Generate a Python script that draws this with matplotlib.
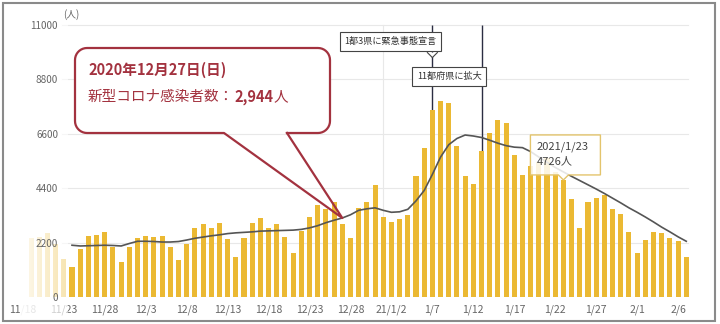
import numpy as np
import pandas as pd
import matplotlib
matplotlib.use('Agg')
import matplotlib.pyplot as plt
import matplotlib.transforms as mtransforms
from matplotlib.patches import Polygon, Rectangle
from matplotlib.lines import Line2D

plt.rcParams['font.family'] = ['Noto Sans CJK JP', 'DejaVu Sans']

# daily new cases (Japan), 2020/11/19 - 2021/2/7
dates = pd.date_range('2020-11-19', '2021-02-07')
cases = [2380, 2420, 2590, 2160, 1520, 1200, 1930, 2470, 2510, 2640, 2030, 1410,
         2010, 2400, 2470, 2410, 2470, 2010, 1500, 2130, 2780, 2950,
         2780, 3000, 2350, 1630, 2400, 2980, 3180, 2800, 2950, 2440,
         1770, 2670, 3250, 3720, 3540, 3850, 2944, 2370, 3580, 3850, 4520,
         3220, 3040, 3150, 3310, 4900, 6000, 7570, 7900, 7820, 6090,
         4880, 4560, 5890, 6630, 7140, 7030, 5740, 4930, 5300, 5450,
         5600, 5050, 4726, 3960, 2770, 3850, 3980, 4120, 3540, 3340, 2640,
         1760, 2300, 2630, 2570, 2370, 2260, 1610]

# 7-day average line, from 2020/11/24
avg_start = '2020-11-24'
avg7 = [2090, 2060, 2070, 2080, 2090, 2080, 2060,
        2160, 2250, 2250, 2240, 2220, 2220, 2240,
        2300, 2370, 2420, 2470, 2510, 2560, 2590,
        2610, 2630, 2660, 2670, 2680, 2690, 2700,
        2730, 2790, 2880, 3000, 3100, 3190, 3320,
        3500, 3560, 3600, 3500, 3420, 3440, 3540,
        3880, 4300, 4950, 5650, 6150, 6400, 6540,
        6500, 6440, 6330, 6210, 6110, 6050, 6030,
        5870, 5650, 5440, 5230, 5050, 4870, 4700,
        4530, 4360, 4180, 3990, 3800, 3600,
        3420, 3230, 3030, 2820, 2630, 2430, 2250]

yticks = [0, 2200, 4400, 6600, 8800, 11000]
xtick_dates = ['2020-11-18', '2020-11-23', '2020-11-28', '2020-12-03', '2020-12-08',
               '2020-12-13', '2020-12-18', '2020-12-23', '2020-12-28', '2021-01-02',
               '2021-01-07', '2021-01-12', '2021-01-17', '2021-01-22', '2021-01-27',
               '2021-02-01', '2021-02-06']
xtick_labels = ['11/18', '11/23', '11/28', '12/3', '12/8', '12/13', '12/18', '12/23',
                '12/28', '21/1/2', '1/7', '1/12', '1/17', '1/22', '1/27', '2/1', '2/6']

events = [('2021-01-07', '1都3県に緊急事態宣言'), ('2021-01-13', '11都府県に拡大')]
highlight_date = '2020-12-27'
tooltip_date = '2021-01-23'

W, H = 720, 324
bar_color = '#EBB933'
red = '#A3323F'

fig = plt.figure(figsize=(W / 100, H / 100), dpi=100)
ax = fig.add_axes([20 / W, 1 - 297 / H, 672 / W, (297 - 19.6) / H])

def day(d):
    return (pd.Timestamp(d) - dates[0]).days

def P(x, y):
    # pixel coords, y measured from the top
    return (x, H - y)

ident = mtransforms.IdentityTransform()

x = np.arange(len(dates))
ax.bar(x, cases, width=0.62, color=bar_color, zorder=2)
xa = np.arange(day(avg_start), day(avg_start) + len(avg7))
ax.plot(xa, avg7, color='#555555', lw=1.2, zorder=2.1)

# fade over the left end (scrolled chart)
grad = np.ones((2, 60, 4))
grad[..., 3] = np.linspace(0.93, 0.62, 60)
ax.imshow(grad, extent=[-1.35, 4.45, -900, 11200], aspect='auto', zorder=2.3,
          clip_on=False, interpolation='bilinear')

ax.set_xlim(-1.35, 80.7)
ax.set_ylim(0, 11200)

for yv in yticks:
    ax.axhline(yv, xmin=0.0625, xmax=0.994, color='#e8e8e8', lw=0.8, zorder=0.5)
ax.axvline(day('2021-01-01'), ymin=0, ymax=11000 / 11200, color='#e8e8e8', lw=0.8, zorder=0.5)

for s in ax.spines.values():
    s.set_visible(False)
ax.set_yticks(yticks)
ax.set_yticklabels([str(v) for v in yticks])
ax.tick_params(axis='y', length=0, pad=-27.4, labelsize=7.2, labelcolor='#666666')
ax.set_xticks([day(d) for d in xtick_dates])
ax.set_xticklabels(xtick_labels)
ax.tick_params(axis='x', length=0, pad=5.5, labelsize=7.5, labelcolor='#666666')
ax.xaxis.set_zorder(2.2)
ax.yaxis.set_zorder(3)

fig.text(63, H - 15, '(人)', transform=ident, fontsize=7, color='#666666', va='center')

# event lines and labels
for (d, label), (dx, dy) in zip(events, [(4, -17), (0, -52)]):
    ax.vlines(day(d), 0, 11000, color='#2b2d42', lw=1.0, zorder=1.5)
    ax.annotate(label, xy=(day(d), 11000), xytext=(dx, dy), textcoords='offset pixels',
                ha='right', va='center', fontsize=6.6, color='#333333', zorder=4,
                bbox=dict(boxstyle='square,pad=0.5', fc='white', ec='#444444', lw=0.8))
fig.canvas.draw()
ex, ey = ax.transData.transform((day(events[0][0]), 11000))
tri = [(ex - 5, ey - 28), (ex, ey - 33), (ex + 5, ey - 28)]
fig.add_artist(Polygon(tri, closed=True, transform=ident, fc='white', ec='none', zorder=5))
fig.add_artist(Line2D([p[0] for p in tri], [p[1] for p in tri], transform=ident,
                      color='#444444', lw=0.8, zorder=5))

# callout for 12/27
hd = pd.Timestamp(highlight_date)
tip = ax.transData.transform((day(hd), avg7[day(hd) - day(avg_start)]))
x0, y0, x1, y1, r = 75, 48, 330, 133, 12
pts = [(287, y1), (x1 - r, y1)]
def arc(cx, cy, a0, a1):
    t = np.radians(np.linspace(a0, a1, 10))
    return list(zip(cx + r * np.cos(t), cy + r * np.sin(t)))
pts += arc(x1 - r, y1 - r, 90, 0)
pts += arc(x1 - r, y0 + r, 0, -90)
pts += arc(x0 + r, y0 + r, -90, -180)
pts += arc(x0 + r, y1 - r, 180, 90)
pts += [(224, y1)]
disp = [P(px, py) for px, py in pts]
fig.add_artist(Polygon(disp, closed=True, transform=ident, fc='white', ec='none', zorder=6))
outline = disp + [tuple(tip), disp[0]]
fig.add_artist(Line2D([p[0] for p in outline], [p[1] for p in outline], transform=ident,
                      color=red, lw=1.6, solid_joinstyle='round', zorder=7))

wd = '月火水木金土日'[hd.weekday()]
fig.text(*P(88, 70), f'{hd.year}年{hd.month}月{hd.day}日({wd})', transform=ident,
         fontsize=10.5, color=red, fontweight='bold', va='center', zorder=8)
t2 = fig.text(*P(88, 97), '新型コロナ感染者数：', transform=ident,
              fontsize=10.5, color=red, va='center', zorder=8)
n = cases[day(hd)]
t3 = fig.add_artist(plt.Annotation(f'{n:,}', xy=(1, 0.5), xycoords=t2, va='center',
                                   ha='left', fontsize=10.5, color=red, fontweight='bold',
                                   zorder=8))
fig.add_artist(plt.Annotation('人', xy=(1, 0.5), xycoords=t3, va='center', ha='left',
                              fontsize=10.5, color=red, zorder=8))

# tooltip for 1/23
td = pd.Timestamp(tooltip_date)
tx, ty = ax.transData.transform((day(td), cases[day(td)]))
bx0, bx1, by_top, by_bot = tx - 33, tx + 37, ty + 45, ty + 5
box = [(bx0, by_top), (bx1, by_top), (bx1, by_bot), (tx + 5, by_bot), (tx, ty),
       (tx - 5, by_bot), (bx0, by_bot)]
fig.add_artist(Polygon(box, closed=True, transform=ident, fc=(1, 1, 1, 0.85),
                       ec='#E3C46C', lw=1.0, zorder=6))
fig.text(bx0 + 6, ty + 33, f'{td.year}/{td.month}/{td.day}', transform=ident,
         fontsize=8, color='#444444', va='center', zorder=8)
fig.text(bx0 + 6, ty + 19, f'{cases[day(td)]}人', transform=ident,
         fontsize=8, color='#444444', va='center', zorder=8)

# outer frame
fig.add_artist(Rectangle(P(3, 321), 712, 318, transform=ident, fill=False,
                         ec='#8a8a8a', lw=1.5, zorder=9))

fig.savefig('out.png', dpi=100)
